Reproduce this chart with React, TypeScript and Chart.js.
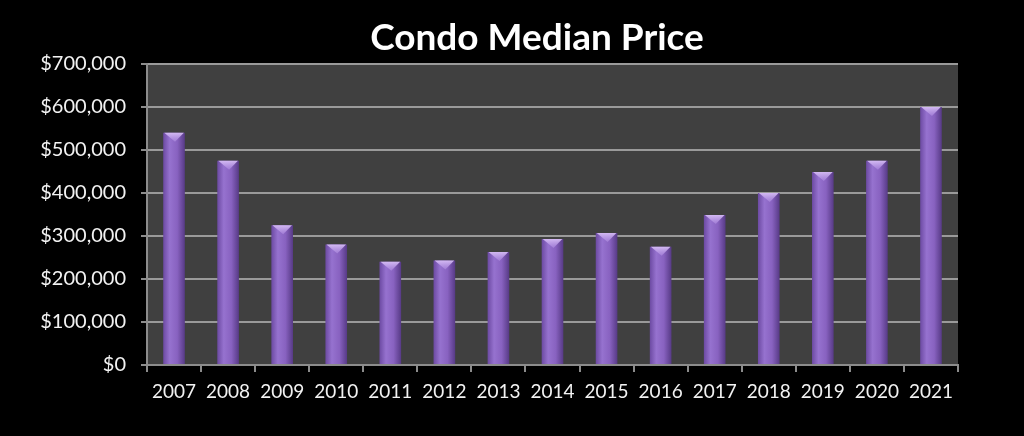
import React, { useEffect, useRef } from "react";
import { Chart, registerables } from "chart.js";

Chart.register(...registerables);

const chartTitle = "Condo Median Price";
const years = ["2007", "2008", "2009", "2010", "2011", "2012", "2013", "2014", "2015", "2016", "2017", "2018", "2019", "2020", "2021"];
const medianPrices = [540000, 475000, 325000, 280000, 240000, 243000, 263000, 293000, 307000, 275000, 349000, 400000, 449000, 475000, 600000];
const yMax = 700000;
const yStep = 100000;

const plotBg = {
  id: "plotBg",
  beforeDraw(chart: any) {
    const { ctx, chartArea } = chart;
    ctx.save();
    ctx.fillStyle = "#000000";
    ctx.fillRect(0, 0, chart.width, chart.height);
    ctx.fillStyle = "#404040";
    ctx.fillRect(chartArea.left, chartArea.top, chartArea.right - chartArea.left, chartArea.bottom - chartArea.top);
    ctx.restore();
  },
};

const titleText = {
  id: "titleText",
  afterDraw(chart: any) {
    const { ctx } = chart;
    ctx.save();
    ctx.fillStyle = "#ffffff";
    ctx.font = "bold 37px Lato";
    ctx.textAlign = "center";
    ctx.textBaseline = "alphabetic";
    ctx.fillText(chartTitle, chart.width / 2 + 25, 50);
    ctx.restore();
  },
};

const barTops = {
  id: "barTops",
  afterDatasetsDraw(chart: any) {
    const { ctx } = chart;
    const meta = chart.getDatasetMeta(0);
    ctx.save();
    meta.data.forEach((el: any) => {
      const w = el.width;
      const x = el.x;
      const y = el.y;
      if (!isFinite(x) || !isFinite(y) || !isFinite(w)) return;
      const g = ctx.createLinearGradient(x, y, x, y + 9);
      g.addColorStop(0, "rgba(215,190,245,0.95)");
      g.addColorStop(1, "rgba(175,140,225,0.6)");
      ctx.fillStyle = g;
      ctx.beginPath();
      ctx.moveTo(x - w / 2 + 1, y);
      ctx.lineTo(x + w / 2 - 1, y);
      ctx.lineTo(x + 1, y + 9);
      ctx.closePath();
      ctx.fill();
    });
    ctx.restore();
  },
};

export default function App() {
  const ref = useRef<HTMLCanvasElement | null>(null);
  useEffect(() => {
    document.body.style.margin = "0";
    document.body.style.background = "#000";
    const canvas = ref.current!;
    const chart = new Chart(canvas, {
      type: "bar",
      data: {
        labels: years,
        datasets: [
          {
            data: medianPrices,
            barPercentage: 0.4,
            categoryPercentage: 1,
            backgroundColor: (c: any) => {
              const ch = c.chart;
              const xs = ch.scales && ch.scales.x;
              if (!xs || c.dataIndex === undefined) return "#8a62c2";
              const cx = xs.getPixelForValue(c.dataIndex);
              const w = ((xs.right - xs.left) / years.length) * 0.4;
              if (!isFinite(cx) || !isFinite(w) || w <= 0) return "#8a62c2";
              const g = ch.ctx.createLinearGradient(cx - w / 2, 0, cx + w / 2, 0);
              g.addColorStop(0, "#6c4aa2");
              g.addColorStop(0.3, "#9672cf");
              g.addColorStop(0.65, "#8862c0");
              g.addColorStop(1, "#573a86");
              return g;
            },
            borderWidth: 0,
          },
        ],
      },
      options: {
        animation: false,
        responsive: false,
        maintainAspectRatio: false,
        layout: { padding: { left: 0, right: 66, top: 64, bottom: 0 } },
        plugins: {
          legend: { display: false },
          tooltip: { enabled: false },
          title: { display: false },
        },
        scales: {
          x: {
            afterFit: (s: any) => {
              s.height = 71;
            },
            grid: {
              display: true,
              drawOnChartArea: false,
              offset: true,
              tickLength: 7,
              color: "#8c8c8c",
              lineWidth: 2,
            },
            border: { color: "#8c8c8c", width: 2 },
            ticks: {
              color: "#f2f2f2",
              font: { family: "Lato", size: 19 },
              padding: 8,
              maxRotation: 0,
            },
          },
          y: {
            min: 0,
            max: yMax,
            afterFit: (s: any) => {
              s.width = 147;
            },
            grid: {
              color: "#9a9a9a",
              lineWidth: 2,
              tickLength: 6,
              tickColor: "#8c8c8c",
            },
            border: { color: "#8c8c8c", width: 2 },
            ticks: {
              stepSize: yStep,
              color: "#f2f2f2",
              font: { family: "Lato", size: 20 },
              padding: 15,
              callback: (v: any) => "$" + Number(v).toLocaleString("en-US"),
            },
          },
        },
      },
      plugins: [plotBg, barTops, titleText],
    });
    return () => chart.destroy();
  }, []);
  return (
    <div style={{ width: 1024, height: 436, background: "#000" }}>
      <canvas ref={ref} width={1024} height={436} style={{ display: "block" }} />
    </div>
  );
}
